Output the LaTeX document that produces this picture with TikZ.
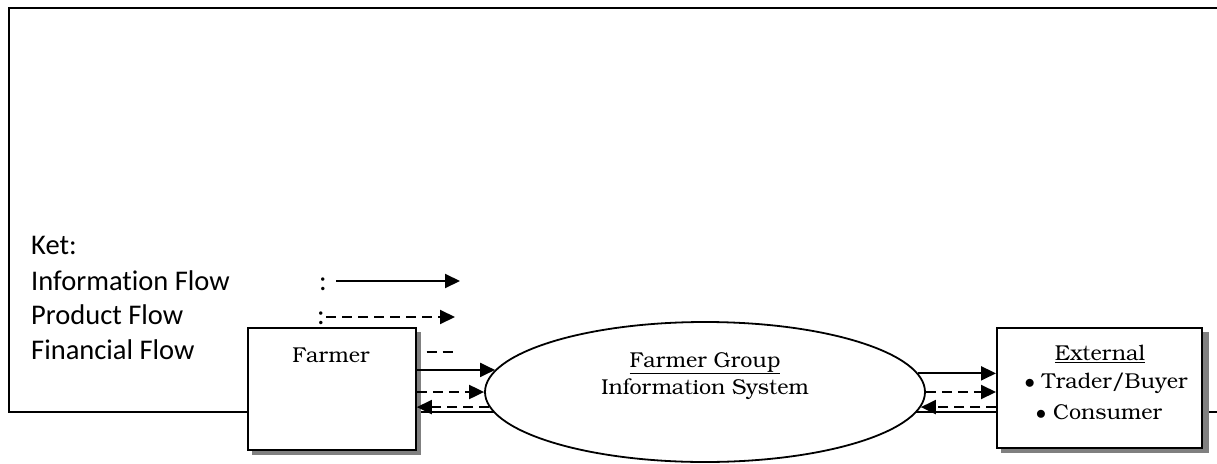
\documentclass[tikz,border=0pt]{standalone}
\usepackage[T1]{fontenc}
\usepackage{fontspec}
\setmainfont{Carlito}[Ligatures=NoCommon]
\usetikzlibrary{arrows.meta,shapes.geometric}
\newcommand\bkfont{\fontencoding{T1}\fontfamily{pbk}\fontseries{l}\selectfont}
\begin{document}
\begin{tikzpicture}[x=1pt,y=-1pt,
  flow/.style={line width=2pt},
  tip/.style={-{Triangle[length=15pt,width=14pt]}},
  dsh/.style={dash pattern=on 10pt off 6pt},
  legendtxt/.style={anchor=base west,inner sep=0pt,font=\fontsize{28.5}{32}\selectfont},
  boxtxt/.style={inner sep=0pt,font=\bkfont\fontsize{21.5}{25}\selectfont},
  entity/.style={draw,line width=1.8pt,fill=white,minimum width=168pt,minimum height=122pt,inner sep=0pt},
  shadowbox/.style={fill=black!50,draw=none}]
\useasboundingbox (0,0) rectangle (1217,463);
% frame
\draw[line width=2pt] (1217,412) -- (9,412) -- (9,8) -- (1217,8);
% legend
\node[legendtxt] (ket) at (31,254) {Ket:};
\node[legendtxt] (li) at (31,290) {Information Flow};
\node[legendtxt] (lp) at (31,324) {Product Flow};
\node[legendtxt] (lf) at (31,359) {Financial Flow};
\node[legendtxt] (ci) at (319,290) {:};
\node[legendtxt] (cp) at (317,324) {:};
\coordinate (ia) at (336,281); \coordinate (ib) at (460,281);
\coordinate (pa) at (326,317); \coordinate (pb) at (455,317);
\coordinate (fa) at (300,352); \coordinate (fb) at (455,352);
\draw[flow,tip] (ia) -- (ib);
\draw[flow,tip,dsh] (pa) -- (pb);
\draw[flow,dsh,{Triangle[length=15pt,width=14pt]}-] (fa) -- (fb);
% farmer
\fill[shadowbox] (252,332) rectangle (421,455);
\node[entity,anchor=north west] (farmer) at (247,327) {};
\node[boxtxt] (ft) at (331,355) {Farmer};
% ellipse
\node[ellipse,draw,line width=1.8pt,fill=white,minimum width=440pt,minimum height=140pt,inner sep=0pt] (fig) at (705,392) {};
\node[boxtxt] (fg1) at (705,363) {\underline{Farmer Group}};
\node[boxtxt] (fg2) at (705,389) {Information System};
% external
\fill[shadowbox] (1001,332) rectangle (1209,453);
\node[entity,anchor=north west,minimum width=205pt,minimum height=120pt] (ext) at (996,327) {};
\node[boxtxt] (et1) at (1100,354) {\underline{External}};
\node[boxtxt] (et2) at (1106,383) {$\bullet$ Trader/Buyer};
\node[boxtxt] (et3) at (1099,412) {$\bullet$ Consumer};
% flows left
\draw[flow,tip] (farmer.east |- fig.174.9) -- (fig.174.9);
\draw[flow,tip,dsh] (farmer.east |- fig.west) -- (fig.west);
\draw[flow,tip,dsh] (fig.184.3) -- (farmer.east |- fig.184.3);
% flows right
\draw[flow,tip] (fig.5.1) -- (ext.west |- fig.5.1);
\draw[flow,tip,dsh] (fig.east) -- (ext.west |- fig.east);
\draw[flow,tip,dsh] (ext.west |- fig.-4.3) -- (fig.-4.3);
\end{tikzpicture}
\end{document}
